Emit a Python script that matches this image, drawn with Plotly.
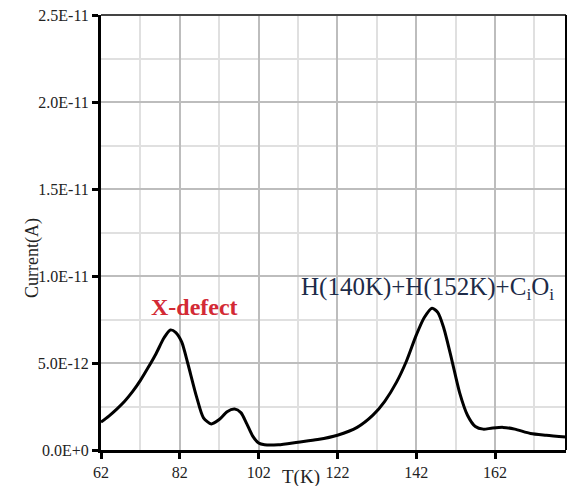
import plotly.graph_objects as go

temperature_K = [62, 64, 66, 68, 70, 72, 74, 76, 78, 79.6, 81, 82.5, 84, 86.2, 88, 90, 92, 94, 95.9, 97.5, 99, 100.5,
                 102, 103.5, 107, 112, 117, 122, 127, 131, 134, 137, 139.5, 142, 144, 146, 147.5, 149, 151, 153,
                 155, 157, 159, 161, 164, 167, 171, 175, 180]
current_pA = [1.6, 1.95, 2.35, 2.8, 3.35, 4.0, 4.75, 5.55, 6.45, 6.9, 6.75, 6.2, 5.0, 3.1, 1.85, 1.5, 1.75, 2.2, 2.35,
              2.15, 1.5, 0.8, 0.4, 0.3, 0.3, 0.45, 0.6, 0.85, 1.3, 2.0, 2.8, 3.9, 5.1, 6.6, 7.6, 8.15, 7.9, 7.0,
              5.2, 3.3, 2.0, 1.35, 1.2, 1.25, 1.3, 1.2, 0.95, 0.85, 0.75]
current_A = [v * 1e-12 for v in current_pA]

x_ticks = [62, 82, 102, 122, 142, 162]
y_ticks = [0, 5e-12, 1e-11, 1.5e-11, 2e-11, 2.5e-11]
y_tick_labels = ["0.0E+0", "5.0E-12", "1.0E-11", "1.5E-11", "2.0E-11", "2.5E-11"]

font_family = "Liberation Serif"

fig = go.Figure()
fig.add_trace(go.Scatter(x=temperature_K, y=current_A, mode="lines",
                         line=dict(color="black", width=3, shape="spline", smoothing=0.7),
                         showlegend=False, hoverinfo="skip"))

fig.update_layout(
    width=567, height=486,
    margin=dict(l=101, r=1, t=15, b=36),
    paper_bgcolor="white", plot_bgcolor="white",
    font=dict(family=font_family, color="#222"),
    xaxis=dict(range=[62, 180], tickvals=x_ticks, ticks="outside", ticklen=6, tickwidth=3,
               tickcolor="black", showline=True, linecolor="black", linewidth=3,
               showgrid=True, gridcolor="#bdbdbd", gridwidth=1.5, zeroline=False,
               minor=dict(tickvals=[72, 92, 112, 132, 152, 172], showgrid=True, gridcolor="#e0e0e0", gridwidth=1.5),
               tickfont=dict(size=16, family=font_family, color="#222")),
    yaxis=dict(range=[0, 2.5e-11], tickvals=y_ticks, ticktext=y_tick_labels, ticks="outside",
               ticklen=6, tickwidth=3, tickcolor="black", showline=True, linecolor="black", linewidth=3,
               showgrid=True, gridcolor="#bdbdbd", gridwidth=1.5, zeroline=False,
               minor=dict(tickvals=[2.5e-12, 7.5e-12, 1.25e-11, 1.75e-11, 2.25e-11], showgrid=True,
                          gridcolor="#e0e0e0", gridwidth=1.5),
               tickfont=dict(size=16, family=font_family, color="#222")),
    shapes=[
        dict(type="line", xref="paper", yref="paper", x0=0, x1=1, y0=1, y1=1,
             line=dict(color="#444", width=2)),
        dict(type="line", xref="paper", yref="paper", x0=1, x1=1, y0=0, y1=1,
             line=dict(color="black", width=2)),
    ],
    annotations=[
        dict(text="X-defect", x=85.8, y=8.2e-12, xref="x", yref="y", showarrow=False,
             font=dict(family=font_family, size=24, color="#d32a35", weight="bold")),
        dict(text="H(140K)+H(152K)+C<sub>i</sub>O<sub>i</sub>", x=144.8, y=9.3e-12, xref="x", yref="y",
             showarrow=False, font=dict(family=font_family, size=25, color="#1d2b48")),
        dict(text="T(K)", x=(301 - 101) / 465, y=0, xref="paper", yref="paper", yshift=-40,
             showarrow=False, font=dict(family=font_family, size=19, color="#222")),
        dict(text="Current(A)", x=0, y=0.44, xref="paper", yref="paper", xshift=-81,
             textangle=-90, showarrow=False, font=dict(family=font_family, size=18, color="#222")),
    ],
)

fig.write_html("out.html")
